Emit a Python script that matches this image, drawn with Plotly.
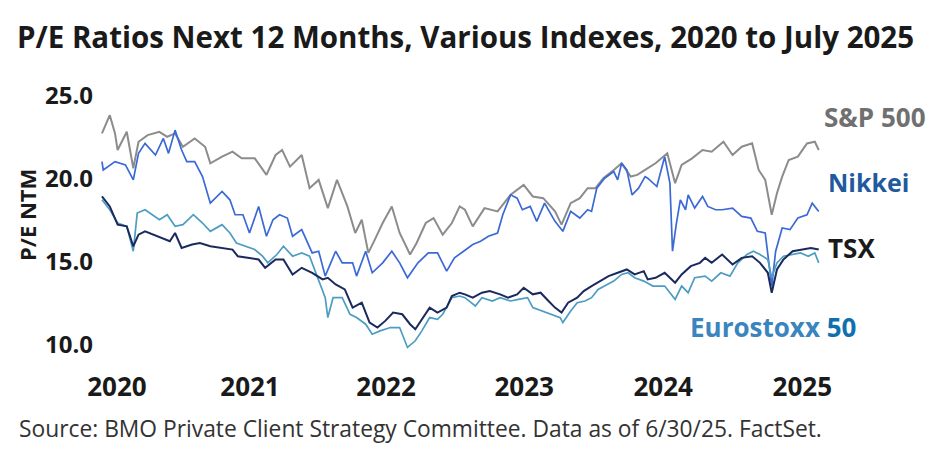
import plotly.graph_objects as go

# ---- data (x = fractional year, y = P/E NTM) ----
sp_x = [2020.00, 2020.06, 2020.10, 2020.12, 2020.19, 2020.24, 2020.28, 2020.35, 2020.44, 2020.50,
        2020.56, 2020.62, 2020.71, 2020.79, 2020.83, 2020.92, 2021.00, 2021.07, 2021.17, 2021.26,
        2021.33, 2021.38, 2021.44, 2021.53, 2021.59, 2021.66, 2021.73, 2021.80, 2021.88, 2021.94,
        2021.99, 2022.04, 2022.09, 2022.15, 2022.22, 2022.28, 2022.36, 2022.41, 2022.48, 2022.54,
        2022.61, 2022.68, 2022.74, 2022.78, 2022.84, 2022.93, 2023.03, 2023.13, 2023.23, 2023.30,
        2023.38, 2023.47, 2023.52, 2023.59, 2023.66, 2023.72, 2023.78, 2023.84, 2023.92, 2023.98,
        2024.05, 2024.10, 2024.16, 2024.24, 2024.33, 2024.39, 2024.44, 2024.52, 2024.60, 2024.67,
        2024.76, 2024.83, 2024.90, 2024.98, 2025.03, 2025.08, 2025.13, 2025.17, 2025.21, 2025.26,
        2025.33, 2025.40, 2025.46, 2025.49]
sp_y = [22.7, 23.8, 22.7, 21.7, 22.8, 20.6, 22.2, 22.6, 22.8, 22.5,
        22.7, 21.9, 22.4, 21.9, 20.9, 21.3, 21.6, 21.2, 21.2, 20.2,
        21.4, 21.7, 20.7, 21.4, 19.4, 19.9, 18.2, 19.9, 18.3, 16.7,
        17.5, 15.5, 16.3, 17.3, 18.3, 16.7, 15.4, 16.1, 17.3, 17.6,
        16.6, 17.3, 18.3, 18.1, 17.1, 18.2, 18.0, 19.0, 19.6, 18.9,
        18.8, 18.0, 17.2, 18.5, 18.8, 19.4, 19.4, 20.0, 20.5, 20.9,
        20.1, 20.2, 20.5, 20.9, 21.5, 19.7, 20.8, 21.2, 21.7, 21.6,
        22.2, 21.4, 21.9, 22.1, 20.5, 19.9, 17.8, 19.1, 20.1, 21.1,
        21.3, 22.1, 22.2, 21.7]

nk_x = [2020.00, 2020.01, 2020.10, 2020.18, 2020.24, 2020.28, 2020.33, 2020.41, 2020.47, 2020.51,
        2020.56, 2020.61, 2020.65, 2020.71, 2020.77, 2020.83, 2020.92, 2020.98, 2021.02, 2021.08,
        2021.13, 2021.20, 2021.26, 2021.31, 2021.36, 2021.42, 2021.46, 2021.53, 2021.61, 2021.66,
        2021.71, 2021.79, 2021.84, 2021.92, 2021.95, 2022.02, 2022.07, 2022.15, 2022.22, 2022.28,
        2022.34, 2022.42, 2022.50, 2022.57, 2022.64, 2022.70, 2022.77, 2022.84, 2022.90, 2022.96,
        2023.03, 2023.07, 2023.13, 2023.18, 2023.22, 2023.28, 2023.33, 2023.39, 2023.47, 2023.53,
        2023.59, 2023.66, 2023.72, 2023.75, 2023.79, 2023.85, 2023.92, 2023.95, 2023.98, 2024.02,
        2024.06, 2024.11, 2024.16, 2024.18, 2024.25, 2024.31, 2024.35, 2024.37, 2024.40, 2024.43,
        2024.47, 2024.49, 2024.54, 2024.60, 2024.64, 2024.70, 2024.75, 2024.83, 2024.90, 2024.97,
        2025.02, 2025.08, 2025.13, 2025.16, 2025.21, 2025.27, 2025.33, 2025.40, 2025.44, 2025.49]
nk_y = [21.0, 20.5, 21.0, 20.8, 19.9, 21.5, 22.1, 21.4, 22.4, 21.5,
        22.9, 21.7, 21.0, 21.0, 20.1, 18.5, 19.2, 18.7, 17.8, 17.8,
        16.7, 18.3, 16.5, 17.5, 17.8, 17.6, 16.5, 16.9, 15.5, 15.6,
        14.1, 15.6, 14.9, 14.9, 14.1, 15.6, 14.3, 14.9, 15.6, 14.9,
        14.0, 14.9, 15.5, 15.5, 14.4, 15.2, 15.6, 16.0, 16.2, 16.5,
        16.7, 17.8, 19.0, 18.8, 18.1, 18.3, 17.4, 18.5, 17.4, 16.8,
        18.0, 17.6, 18.1, 18.0, 19.4, 20.0, 20.4, 19.9, 20.9, 20.5,
        19.0, 19.4, 20.1, 20.0, 19.5, 21.3, 19.7, 15.6, 17.3, 18.7,
        18.1, 19.0, 18.2, 18.9, 18.3, 18.1, 18.1, 18.2, 17.7, 17.6,
        16.8, 16.7, 13.5, 15.6, 17.0, 16.9, 17.6, 17.8, 18.5, 18.0]

tsx_x = [2020.00, 2020.06, 2020.12, 2020.19, 2020.24, 2020.28, 2020.33, 2020.39, 2020.46, 2020.52,
         2020.56, 2020.61, 2020.69, 2020.75, 2020.83, 2020.92, 2021.00, 2021.04, 2021.12, 2021.20,
         2021.25, 2021.33, 2021.39, 2021.46, 2021.53, 2021.61, 2021.69, 2021.73, 2021.79, 2021.86,
         2021.92, 2021.99, 2022.05, 2022.11, 2022.17, 2022.23, 2022.30, 2022.36, 2022.40, 2022.45,
         2022.51, 2022.57, 2022.64, 2022.68, 2022.74, 2022.78, 2022.84, 2022.91, 2022.97, 2023.05,
         2023.11, 2023.18, 2023.23, 2023.30, 2023.36, 2023.42, 2023.47, 2023.52, 2023.57, 2023.64,
         2023.69, 2023.75, 2023.82, 2023.88, 2023.95, 2024.02, 2024.08, 2024.15, 2024.18, 2024.24,
         2024.31, 2024.39, 2024.44, 2024.51, 2024.58, 2024.62, 2024.67, 2024.75, 2024.83, 2024.90,
         2024.98, 2025.04, 2025.10, 2025.13, 2025.17, 2025.22, 2025.29, 2025.36, 2025.43, 2025.49]
tsx_y = [18.9, 18.3, 17.2, 17.1, 15.9, 16.6, 16.8, 16.6, 16.4, 16.2,
         16.7, 15.8, 16.0, 16.1, 15.9, 15.8, 15.7, 15.3, 15.2, 15.1,
         14.6, 15.1, 15.1, 14.2, 14.6, 14.3, 13.9, 14.0, 13.6, 13.3,
         12.2, 12.5, 11.3, 11.0, 11.4, 11.9, 11.8, 11.2, 10.9, 11.5,
         12.2, 11.9, 12.2, 12.9, 13.1, 13.0, 12.8, 13.1, 13.2, 13.0,
         12.8, 13.0, 13.4, 13.0, 13.1, 12.6, 12.2, 11.9, 12.5, 12.8,
         13.2, 13.5, 13.8, 14.1, 14.3, 14.5, 14.2, 14.4, 13.9, 14.0,
         14.3, 13.7, 14.2, 14.7, 14.9, 15.2, 14.9, 15.4, 14.8, 15.2,
         15.3, 14.9, 14.3, 13.1, 14.5, 15.1, 15.6, 15.7, 15.8, 15.7]

eu_x = [2020.00, 2020.06, 2020.12, 2020.19, 2020.24, 2020.27, 2020.33, 2020.39, 2020.44, 2020.50,
        2020.56, 2020.62, 2020.70, 2020.77, 2020.83, 2020.92, 2020.98, 2021.03, 2021.10, 2021.17,
        2021.23, 2021.27, 2021.34, 2021.39, 2021.46, 2021.53, 2021.59, 2021.65, 2021.71, 2021.73,
        2021.77, 2021.84, 2021.90, 2021.95, 2022.02, 2022.07, 2022.13, 2022.21, 2022.28, 2022.34,
        2022.40, 2022.45, 2022.51, 2022.57, 2022.61, 2022.68, 2022.74, 2022.78, 2022.86, 2022.91,
        2022.99, 2023.05, 2023.13, 2023.19, 2023.26, 2023.30, 2023.37, 2023.45, 2023.51, 2023.53,
        2023.59, 2023.64, 2023.70, 2023.75, 2023.80, 2023.87, 2023.92, 2023.98, 2024.03, 2024.08,
        2024.15, 2024.22, 2024.31, 2024.35, 2024.39, 2024.44, 2024.49, 2024.54, 2024.62, 2024.67,
        2024.74, 2024.81, 2024.87, 2024.94, 2024.99, 2025.04, 2025.10, 2025.13, 2025.17, 2025.22,
        2025.29, 2025.35, 2025.41, 2025.46, 2025.49]
eu_y = [18.7, 18.1, 17.3, 17.1, 15.6, 17.9, 18.1, 17.8, 17.5, 17.8,
        17.1, 17.2, 17.8, 17.3, 16.8, 17.2, 16.7, 16.1, 15.9, 15.7,
        15.3, 14.9, 15.4, 15.9, 15.3, 15.5, 15.3, 14.1, 12.8, 11.6,
        12.8, 12.8, 11.8, 11.6, 11.2, 10.6, 10.8, 11.0, 11.0, 9.8,
        10.2, 10.8, 11.6, 11.5, 11.8, 12.8, 12.9, 12.8, 12.3, 12.8,
        12.6, 12.8, 12.6, 12.7, 12.8, 12.2, 12.0, 11.8, 11.6, 11.3,
        12.0, 12.5, 12.6, 12.8, 13.3, 13.6, 13.8, 14.2, 14.3, 14.0,
        13.8, 13.5, 13.5, 13.1, 12.7, 13.5, 13.1, 14.0, 14.1, 13.8,
        14.3, 14.1, 14.9, 15.4, 15.6, 15.4, 15.1, 14.0, 14.9, 15.3,
        15.4, 15.5, 15.3, 15.5, 14.9]

year_tick_pos = [2020.115, 2021.134, 2022.176, 2023.234, 2024.299, 2025.364]
year_tick_text = ["2020", "2021", "2022", "2023", "2024", "2025"]
y_ticks = [10, 15, 20, 25]

FONT = "Open Sans"

fig = go.Figure()
fig.add_trace(go.Scatter(x=sp_x, y=sp_y, mode="lines", name="S&P 500",
                         line=dict(color="#8c8c8c", width=2)))
fig.add_trace(go.Scatter(x=nk_x, y=nk_y, mode="lines", name="Nikkei",
                         line=dict(color="#3b69d6", width=1.7)))
fig.add_trace(go.Scatter(x=eu_x, y=eu_y, mode="lines", name="Eurostoxx 50",
                         line=dict(color="#4d9dc2", width=1.7)))
fig.add_trace(go.Scatter(x=tsx_x, y=tsx_y, mode="lines", name="TSX",
                         line=dict(color="#1a2a5c", width=2)))

fig.update_layout(
    width=940, height=452,
    margin=dict(l=100, r=118, t=87, b=83),
    paper_bgcolor="white", plot_bgcolor="white",
    showlegend=False,
    font=dict(family=FONT, color="#1a1a1a"),
    title=dict(text="<b>P/E Ratios Next 12 Months, Various Indexes, 2020 to July 2025</b>",
               x=17/940, xanchor="left", xref="container",
               y=1 - 38/452, yanchor="middle", yref="container",
               font=dict(family=FONT, size=29.5, color="#1a1a1a")),
    xaxis=dict(range=[2019.985, 2025.515], showgrid=False, zeroline=False, showline=False,
               tickmode="array", tickvals=year_tick_pos, ticktext=year_tick_text,
               tickfont=dict(family=FONT, size=26, color="#1a1a1a", weight="bold"),
               ticks="", automargin=False),
    yaxis=dict(range=[8.5, 25.5], showgrid=False, zeroline=False, showline=False,
               tickmode="array", tickvals=y_ticks, tickformat=".1f",
               tickfont=dict(family=FONT, size=24, color="#1a1a1a", weight="bold"),
               ticks="", automargin=False, ticklabelstandoff=6),
)

ann = [
    dict(text="<b>P/E NTM</b>", xref="paper", yref="paper", x=(27-100)/722, y=(369-215)/282,
         textangle=-90, showarrow=False, font=dict(family=FONT, size=22, color="#1a1a1a"),
         xanchor="center", yanchor="middle"),
    dict(text="<b>S&P 500</b>", xref="paper", yref="y", x=1.0, y=23.67, showarrow=False,
         xanchor="left", yanchor="middle", font=dict(family=FONT, size=26, color="#707070")),
    dict(text="<b>Nikkei</b>", xref="paper", yref="y", x=1.006, y=19.76, showarrow=False,
         xanchor="left", yanchor="middle", font=dict(family=FONT, size=25, color="#1f5a9e")),
    dict(text="<b>TSX</b>", xref="paper", yref="y", x=1.006, y=15.78, showarrow=False,
         xanchor="left", yanchor="middle", font=dict(family=FONT, size=26, color="#1a1a1a")),
    dict(text="<b><span style='color:#3a85bd'>Eurostoxx</span> <span style='color:#1070ad'>50</span></b>",
         xref="paper", yref="y", x=(688-100)/722, y=11.02, showarrow=False,
         xanchor="left", yanchor="middle", font=dict(family=FONT, size=26, color="#3a85bd")),
    dict(text="Source: BMO Private Client Strategy Committee. Data as of 6/30/25. FactSet.",
         xref="paper", yref="paper", x=(17-100)/722, y=(369-428)/282, showarrow=False,
         xanchor="left", yanchor="middle", font=dict(family=FONT, size=22.8, color="#333333")),
]
fig.update_layout(annotations=ann)

fig.write_html("out.html", config={"displayModeBar": False},
               post_script="document.body.style.margin='0';document.body.style.padding='0';")
